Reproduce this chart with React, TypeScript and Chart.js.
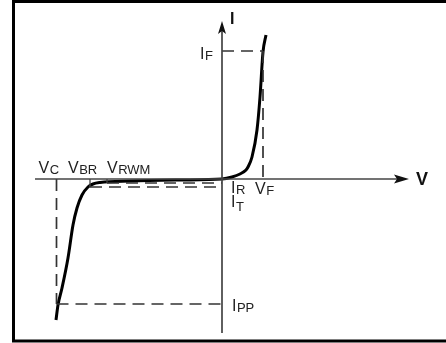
import React, { useEffect, useRef } from "react";
import { Chart, registerables } from "chart.js";

Chart.register(...registerables);

// Schematic TVS diode I–V characteristic (arbitrary units)
const forwardV = [0, 1.0, 1.8, 2.4, 2.6, 3.0, 3.5, 3.8, 4.1, 4.4];
const forwardI = [0, 0.2, 0.5, 0.9, 1.2, 2.2, 4.9, 8.2, 12.7, 14.4];
const reverseV = [-16.6, -16.4, -16.0, -15.4, -14.9, -14.5, -14.0, -13.4, -12.9, -12.2, -9.2, -4.2];
const reverseI = [-14.1, -12.6, -10.9, -7.9, -4.6, -2.9, -1.6, -0.8, -0.5, -0.35, -0.2, -0.1];

// Characteristic markers
const V_C = -16.55;
const V_BR = -13.2;
const V_RWM = -11.5;
const V_F = 4.1;
const I_F = 12.8;
const I_PP = -12.5;
const I_R = -0.4;
const I_T = -0.8;

// Axis extents and view window
const axisV = [-18.7, 18.7];
const axisI = [-15.4, 15.8];
const viewV = [-22.2, 22.4];
const viewI = [-16.4, 17.9];

const AXIS_COLOR = "#444";
const DASH_COLOR = "#333";
const TEXT_COLOR = "#222";
const FONT = "'Liberation Sans', Arial, Helvetica, sans-serif";

function seg(x1: number, y1: number, x2: number, y2: number) {
  return [
    { x: x1, y: y1 },
    { x: x2, y: y2 },
  ];
}

export default function App() {
  const ref = useRef<HTMLCanvasElement | null>(null);

  useEffect(() => {
    if (!ref.current) return;
    const curve = [
      ...reverseV.map((v, i) => ({ x: v, y: reverseI[i] })),
      ...forwardV.map((v, i) => ({ x: v, y: forwardI[i] })),
    ];

    const dashed = (data: { x: number; y: number }[]) => ({
      data,
      showLine: true,
      borderColor: DASH_COLOR,
      borderWidth: 1.7,
      borderDash: [12, 7],
      pointRadius: 0,
      fill: false,
    });
    const solid = (data: { x: number; y: number }[], color: string, w: number) => ({
      data,
      showLine: true,
      borderColor: color,
      borderWidth: w,
      pointRadius: 0,
      fill: false,
    });

    const overlay = {
      id: "overlay",
      beforeDraw(chart: any) {
        const ctx = chart.ctx;
        ctx.save();
        ctx.fillStyle = "#fff";
        ctx.fillRect(0, 0, chart.width, chart.height);
        ctx.restore();
      },
      afterDatasetsDraw(chart: any) {
        const ctx = chart.ctx;
        const xs = chart.scales.x;
        const ys = chart.scales.y;
        const px = (v: number) => xs.getPixelForValue(v);
        const py = (v: number) => ys.getPixelForValue(v);
        ctx.save();

        // arrowheads
        ctx.fillStyle = "#111";
        const xt = px(axisV[1]);
        const y0 = py(0);
        ctx.beginPath();
        ctx.moveTo(xt, y0);
        ctx.lineTo(xt - 15, y0 - 4.5);
        ctx.lineTo(xt - 12, y0);
        ctx.lineTo(xt - 15, y0 + 4.5);
        ctx.closePath();
        ctx.fill();
        const yt = py(axisI[1]);
        const x0 = px(0);
        ctx.beginPath();
        ctx.moveTo(x0, yt);
        ctx.lineTo(x0 - 4, yt + 13);
        ctx.lineTo(x0, yt + 10);
        ctx.lineTo(x0 + 4, yt + 13);
        ctx.closePath();
        ctx.fill();

        // labels
        ctx.fillStyle = TEXT_COLOR;
        ctx.textBaseline = "alphabetic";
        ctx.textAlign = "left";
        const label = (main: string, sub: string, x: number, base: number, subDy = 1) => {
          ctx.font = `16px ${FONT}`;
          ctx.fillText(main, x, base);
          const w = ctx.measureText(main).width;
          if (sub) {
            ctx.font = `13px ${FONT}`;
            ctx.fillText(sub, x + w + 0.5, base + subDy);
          }
        };
        label("V", "C", px(V_C) - 18, y0 - 6);
        label("V", "BR", px(V_BR) - 22, y0 - 6);
        label("V", "RWM", px(V_RWM), y0 - 6);
        label("I", "F", x0 - 22, py(I_F) + 8);
        label("I", "R", x0 + 9, y0 + 14);
        label("I", "T", x0 + 9, y0 + 28, 4);
        label("V", "F", px(V_F) - 8, y0 + 15);
        label("I", "PP", x0 + 10, py(I_PP) + 7);

        ctx.fillStyle = "#111";
        ctx.font = `bold 18px ${FONT}`;
        ctx.fillText("V", xt + 7, y0 + 6);
        ctx.font = `bold 16px ${FONT}`;
        ctx.fillText("I", x0 + 8, yt + 3);

        // frame
        ctx.strokeStyle = "#000";
        ctx.lineWidth = 3;
        ctx.strokeRect(13.5, 1.5, 450, 339.5);
        ctx.restore();
      },
    };

    const chart = new Chart(ref.current, {
      type: "scatter",
      data: {
        datasets: [
          solid(seg(0, axisI[0], 0, axisI[1] - 0.6), AXIS_COLOR, 1.7),
          solid(seg(axisV[0], 0, axisV[1] - 1.0, 0), AXIS_COLOR, 1.7),
          dashed(seg(0, I_F, V_F, I_F)),
          dashed(seg(V_F, I_F, V_F, 0)),
          dashed(seg(V_C, 0, V_C, I_PP)),
          dashed(seg(V_C, I_PP, 0, I_PP)),
          dashed(seg(V_RWM, I_R, 0, I_R)),
          dashed(seg(V_BR, I_T, 0, I_T)),
          solid(seg(V_BR, 0, V_BR, I_T), AXIS_COLOR, 1.3),
          solid(seg(V_RWM, 0, V_RWM, I_R), AXIS_COLOR, 1.3),
          {
            data: curve,
            showLine: true,
            borderColor: "#000",
            borderWidth: 3,
            pointRadius: 0,
            fill: false,
            cubicInterpolationMode: "monotone",
          } as any,
        ] as any,
      },
      options: {
        animation: false,
        responsive: false,
        devicePixelRatio: 1,
        layout: { padding: 0 },
        plugins: {
          legend: { display: false },
          tooltip: { enabled: false },
          title: { display: false },
        },
        scales: {
          x: { type: "linear", display: false, min: viewV[0], max: viewV[1] },
          y: { type: "linear", display: false, min: viewI[0], max: viewI[1] },
        },
        events: [],
      } as any,
      plugins: [overlay],
    });
    return () => chart.destroy();
  }, []);

  return (
    <div style={{ position: "absolute", left: 0, top: 0, width: 446, height: 343 }}>
      <canvas ref={ref} width={446} height={343} style={{ display: "block" }} />
    </div>
  );
}
